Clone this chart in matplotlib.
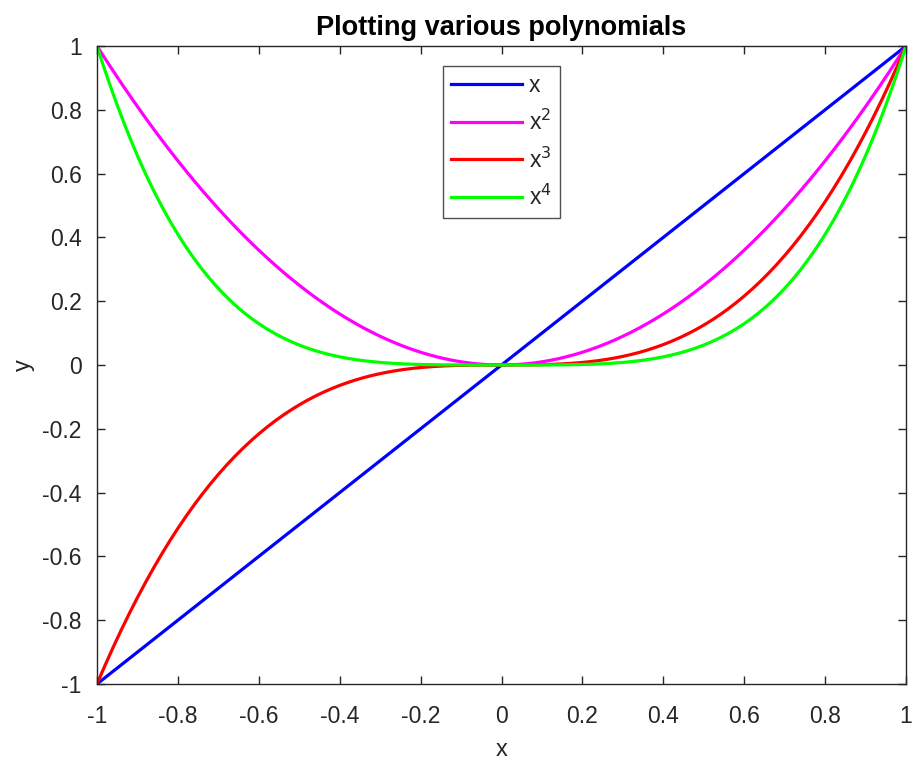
import numpy as np
import matplotlib
matplotlib.use("Agg")
import matplotlib.pyplot as plt

plt.rcParams['font.family'] = ['Liberation Sans', 'DejaVu Sans']

# Data: the chart plots y = x**p on [-1, 1]
exponents = [1, 2, 3, 4]
labels = ['x', 'x$^2$', 'x$^3$', 'x$^4$']
colors = ['#0000ff', '#ff00ff', '#ff0000', '#00ff00']
x_start, x_end, n_points = -1.0, 1.0, 201
xticks = [-1, -0.8, -0.6, -0.4, -0.2, 0, 0.2, 0.4, 0.6, 0.8, 1]
yticks = [-1, -0.8, -0.6, -0.4, -0.2, 0, 0.2, 0.4, 0.6, 0.8, 1]

x = np.linspace(x_start, x_end, n_points)

fig = plt.figure(figsize=(9.16, 7.64), dpi=100)
ax = fig.add_axes([97/916, 1-684/764, (906-97)/916, (684-46)/764])

for p, lab, c in zip(exponents, labels, colors):
    ax.plot(x, x**p, color=c, lw=2.3, label=lab)

ax.set_xlim(-1, 1)
ax.set_ylim(-1, 1)
ax.set_xticks(xticks)
ax.set_yticks(yticks)
fmt = lambda v: ('%g' % v)
ax.set_xticklabels([fmt(v) for v in xticks])
ax.set_yticklabels([fmt(v) for v in yticks])
ax.tick_params(direction='in', top=True, right=True, length=6, width=1,
               labelsize=16.5, color='#262626', labelcolor='#262626')
ax.tick_params(axis='x', pad=15)
ax.tick_params(axis='y', pad=11)
for s in ax.spines.values():
    s.set_color('#262626')
    s.set_linewidth(1)

ax.set_xlabel('x', fontsize=17, color='#262626', labelpad=8)
ax.set_ylabel('y', fontsize=17, color='#262626', labelpad=5)
ax.set_title('Plotting various polynomials', fontsize=19.5, fontweight='bold', pad=8)

leg = ax.legend(loc='upper center', bbox_to_anchor=(0.5, 0.969), fontsize=16.5,
                frameon=True, fancybox=False, edgecolor='#262626',
                handlelength=3.1, handletextpad=0.3, labelspacing=0.55,
                borderpad=0.35, borderaxespad=0)
leg.get_frame().set_linewidth(1)
for t in leg.get_texts():
    t.set_color('#262626')

fig.savefig('out.png', dpi=100)
